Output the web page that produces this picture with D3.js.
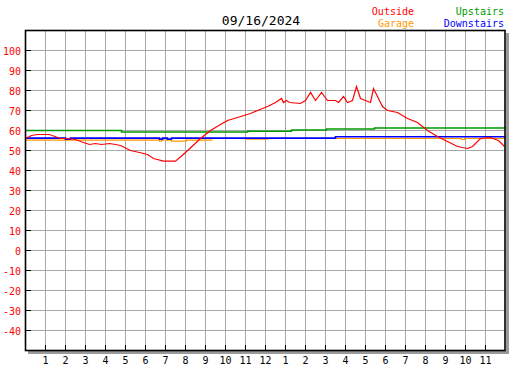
<!DOCTYPE html>
<html><head><meta charset="utf-8">
<script src="https://cdn.jsdelivr.net/npm/d3@7"></script>
<style>body{margin:0;background:#fff}svg{display:block}</style>
</head><body><div id="c"></div>
<script>
// ---- data ----
const title = "09/16/2024";
const hourTicks = [1,2,3,4,5,6,7,8,9,10,11,12,13,14,15,16,17,18,19,20,21,22,23];
const hourLabels = ["1","2","3","4","5","6","7","8","9","10","11","12","1","2","3","4","5","6","7","8","9","10","11"];
const tempTicks = [100,90,80,70,60,50,40,30,20,10,0,-10,-20,-30,-40];

const outsideHours = [0,0.3,0.6,1.2,1.75,2.0,2.5,2.9,3.2,3.5,3.8,4.2,4.5,4.75,5.25,5.7,6.1,6.4,6.9,7.5,8.0,8.75,9.25,9.75,10.1,10.6,11.25,11.6,12.1,12.5,12.8,12.9,13.05,13.2,13.75,14.0,14.25,14.5,14.8,15.1,15.25,15.5,15.65,15.9,16.1,16.35,16.55,16.75,17.0,17.25,17.4,17.6,17.85,18.1,18.6,19.1,19.6,20.1,20.6,21.1,21.6,22.1,22.35,22.75,23.25,23.65,23.95];
const outsideTemps = [56,57.5,58,58,56,56,55.5,54,53,53.5,53,53.5,53,52.5,50,49,48,46,44.7,44.7,49,56,60,63,65,66.5,68.5,70,72,74,76,74,75,74,73.5,75,79,75,79,75,75,75,74,77,74,75,82,76,75,74,81,77,72,70,69,66,64,60,57,54.5,52,51,52,56,56.5,55,52];

const upstairsHours = [0,4.8,11.1,13.3,15.05,17.45,24];
const upstairsTemps = [60,59.2,59.6,60.2,60.7,61.2,61.2];

const downstairsHours = [0,2.0,2.25,6.7,6.85,7.1,7.3,8.4,15.5,24];
const downstairsTemps = [56.2,55.7,56.2,55.7,56.2,55.7,56.2,56.2,56.9,56.9];

const garageHours = [0,6.7,6.8,7.3,8.05,9.35,9.35,11.0,12.15,12.15,15.5,21.8,21.95,24];
const garageTemps = [55.2,54.6,55.2,54.7,55.2,55.2,NaN,55.6,55.6,NaN,56.0,55.5,56.0,56.0];

const seriesNames = ["Outside","Garage","Upstairs","Downstairs"];
const seriesColors = ["#ff0000","#ff9900","#009900","#0000ff"];

// ---- chart ----
const W = 527, H = 370;
const svg = d3.select("#c").append("svg").attr("width", W).attr("height", H)
  .style("font-family", "'DejaVu Sans Mono', monospace");

const x = d3.scaleLinear().domain([0, 24]).range([25.5, 505.5]);
const y = d3.scaleLinear().domain([-50, 110]).range([350.5, 30.5]);

// shadow
svg.append("rect").attr("x", 506).attr("y", 33).attr("width", 3).attr("height", 321).attr("fill", "#9a9a9a");
svg.append("rect").attr("x", 28).attr("y", 351).attr("width", 481).attr("height", 3).attr("fill", "#9a9a9a");
svg.append("rect").attr("x", 25).attr("y", 30).attr("width", 480).attr("height", 320).attr("fill", "#fff");

// grid
const g = svg.append("g").attr("shape-rendering", "crispEdges");
g.selectAll("line.v").data(hourTicks).join("line")
  .attr("x1", d => x(d)).attr("x2", d => x(d)).attr("y1", 30).attr("y2", 350)
  .attr("stroke", "#a8a8a8").attr("stroke-width", 1);
g.selectAll("line.h").data(tempTicks).join("line")
  .attr("x1", 25).attr("x2", 505).attr("y1", d => y(d)).attr("y2", d => y(d))
  .attr("stroke", "#a8a8a8").attr("stroke-width", 1);

// tick marks
g.selectAll("line.yt").data(tempTicks).join("line")
  .attr("x1", 25).attr("x2", 31).attr("y1", d => y(d)).attr("y2", d => y(d))
  .attr("stroke", "#000").attr("stroke-width", 1);
g.selectAll("line.xt").data(hourTicks).join("line")
  .attr("x1", d => x(d)).attr("x2", d => x(d)).attr("y1", 345).attr("y2", 350)
  .attr("stroke", "#000").attr("stroke-width", 1);

// labels
svg.selectAll("text.yl").data(tempTicks).join("text")
  .attr("x", 21).attr("y", d => y(d) + 4).attr("text-anchor", "end")
  .attr("font-size", 10).attr("fill", "#ff0000").text(d => d);
svg.selectAll("text.xl").data(hourTicks).join("text")
  .attr("x", d => x(d)).attr("y", 364).attr("text-anchor", "middle")
  .attr("font-size", 10).attr("fill", "#000").text((d, i) => hourLabels[i]);

// series
function drawSeries(hours, temps, color, curve, sw) {
  const pts = hours.map((h, i) => [h, temps[i]]);
  const line = d3.line().defined(d => !isNaN(d[1])).x(d => x(d[0])).y(d => y(d[1])).curve(curve);
  svg.append("path").datum(pts).attr("d", line).attr("fill", "none")
    .attr("stroke", color).attr("stroke-width", sw);
}
drawSeries(garageHours, garageTemps, seriesColors[1], d3.curveStepAfter, 1.1);
drawSeries(upstairsHours, upstairsTemps, seriesColors[2], d3.curveStepAfter, 1.5);
drawSeries(downstairsHours, downstairsTemps, seriesColors[3], d3.curveStepAfter, 1.6);
drawSeries(outsideHours, outsideTemps, seriesColors[0], d3.curveLinear, 1.2);

// border
svg.append("rect").attr("x", 25.5).attr("y", 30.5).attr("width", 479.5).attr("height", 320)
  .attr("fill", "none").attr("stroke", "#000").attr("stroke-width", 1.6);

// title
svg.append("text").attr("x", 261).attr("y", 25).attr("text-anchor", "middle")
  .attr("font-size", 13).attr("fill", "#000").text(title);

// legend
const legX = [414, 414, 504, 504];
const legY = [15, 27, 15, 27];
svg.selectAll("text.leg").data(seriesNames).join("text")
  .attr("x", (d, i) => legX[i]).attr("y", (d, i) => legY[i]).attr("text-anchor", "end")
  .attr("font-size", 10).attr("fill", (d, i) => seriesColors[i]).text(d => d);
</script></body></html>
